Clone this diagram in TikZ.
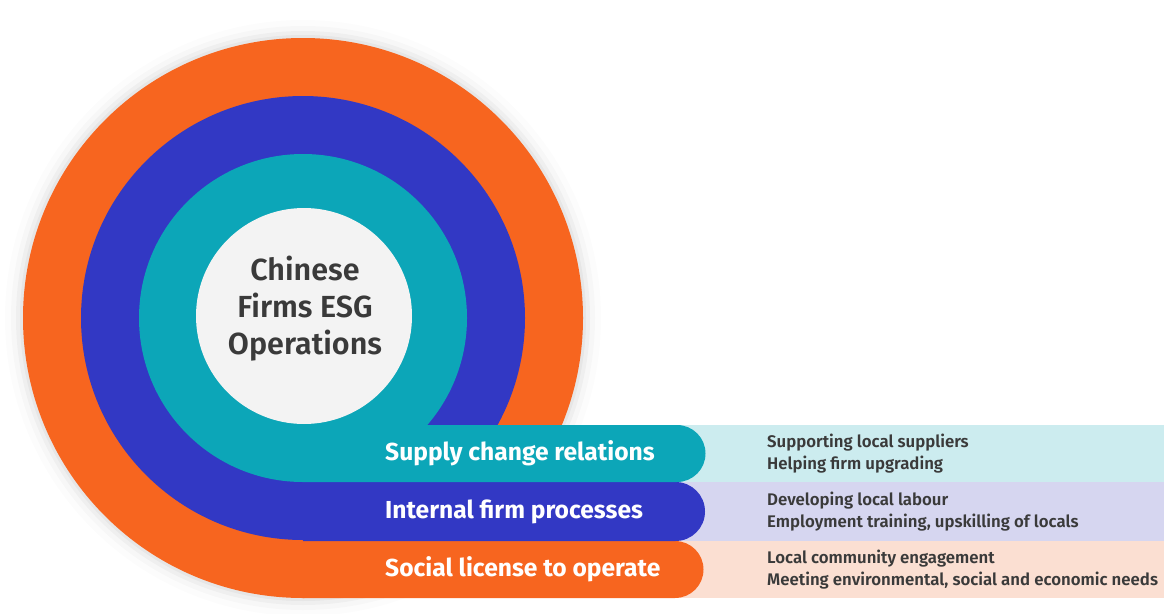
\documentclass[tikz,border=0pt]{standalone}
\usepackage{fontspec}
\setmainfont{Fira Sans}
\newfontfamily\medfont{Fira Sans SemiBold}
\usepackage{tikz}
\definecolor{ringorange}{HTML}{F7651F}
\definecolor{ringblue}{HTML}{3238C4}
\definecolor{ringteal}{HTML}{0CA6B8}
\definecolor{coregray}{HTML}{F3F3F3}
\definecolor{paneteal}{HTML}{CCECEF}
\definecolor{paneblue}{HTML}{D6D6F0}
\definecolor{paneorange}{HTML}{FBDFD2}
\definecolor{inkgray}{HTML}{3A3A3A}
\tikzset{
  bandlabel/.style={
    anchor=west,
    text=white,
    inner sep=0pt,
    font=\bfseries\fontsize{24.6}{26}\selectfont
  },
  panellabel/.style={
    anchor=west,
    align=left,
    text=inkgray,
    inner sep=0pt,
    font=\medfont\fontsize{16.8}{22}\selectfont
  },
  corelabel/.style={
    align=center,
    text=inkgray,
    inner sep=0pt,
    font=\medfont\fontsize{30.5}{37}\selectfont
  }
}

\begin{document}
\begin{tikzpicture}[x=1pt,y=-1pt]
    \useasboundingbox (0,0) rectangle (1164,613);

    % soft halo round the outer ring
    \foreach \r/\o in {298/0.012,292/0.02,287/0.03,283/0.04}
        \fill[black,opacity=\o] (303,318) circle[radius=\r];

    % light panels behind the bands
    \fill[paneteal] (680,425) rectangle (1164,482);
    \fill[paneblue] (680,482) rectangle (1164,541);
    \fill[paneorange] (680,541) rectangle (1164,598);

    % rings
    \fill[ringorange] (303,318) circle[radius=280];
    \fill[ringblue] (303,318) circle[radius=222];
    \fill[ringteal] (303,318) circle[radius=164];

    % bands
    \fill[ringorange] (303,541) -- (675,541) arc[start angle=-90,end angle=90,radius=28.5] -- (303,598) -- cycle;
    \fill[ringblue] (303,482) -- (675.5,482) arc[start angle=-90,end angle=90,radius=29.5] -- (303,541) -- cycle;
    \fill[ringteal] (303,425) -- (677,425) arc[start angle=-90,end angle=90,radius=28.5] -- (303,482) -- cycle;

    % core
    \fill[coregray] (304,316) circle[radius=108];
    \node[corelabel] (core) at (305,309) {Chinese\\Firms ESG\\Operations};

    \node[bandlabel] (supply) at (385,453.5) {Supply change relations};
    \node[bandlabel] (internal) at (385,511.5) {Internal firm processes};
    \node[bandlabel] (social) at (385,569.5) {Social license to operate};

    \node[panellabel] (supplynote) at (767,453.5) {Supporting local suppliers\\Helping firm upgrading};
    \node[panellabel] (internalnote) at (767,511.5) {Developing local labour\\Employment training, upskilling of locals};
    \node[panellabel] (socialnote) at (767,569.5) {Local community engagement\\Meeting environmental, social and economic needs};
\end{tikzpicture}
\end{document}
